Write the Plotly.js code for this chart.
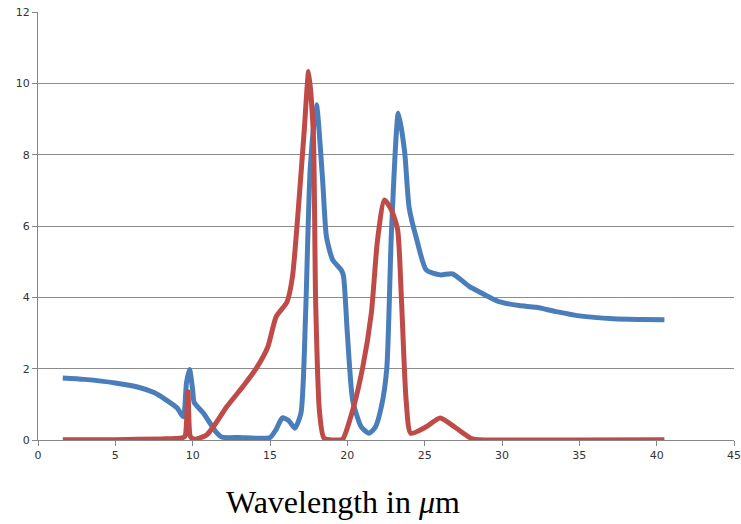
<!DOCTYPE html>
<html>
<head>
<meta charset="utf-8">
<script src="https://cdn.plot.ly/plotly-3.0.1.min.js"></script>
<style>html,body{margin:0;padding:0;background:#fff;}#chart{width:741px;height:524px;}</style>
</head>
<body>
<div id="chart"></div>
<script>
// Blue series
const blueX = [1.6, 3, 5, 6.5, 7.5, 8.3, 9.0, 9.4, 9.6, 9.8, 10.0, 10.1, 10.7, 11.5, 11.9, 13, 15.0, 15.4, 15.8, 16.2, 16.6, 17.0, 17.3, 17.6, 18.0, 18.4, 18.65, 19.05, 19.6, 19.75, 20.0, 20.35, 20.9, 21.4, 21.8, 22.2, 22.55, 22.85, 23.3, 23.7, 24.0, 24.5, 25.1, 26.0, 26.8, 27.9, 28.55, 29.2, 29.8, 31.1, 32.2, 33.5, 35.0, 37.2, 39.0, 40.5];
const blueY = [1.74, 1.7, 1.6, 1.48, 1.33, 1.12, 0.9, 0.65, 1.6, 1.98, 1.4, 1.05, 0.75, 0.23, 0.08, 0.07, 0.07, 0.3, 0.62, 0.55, 0.33, 0.75, 3.5, 7.6, 9.4, 7.3, 5.7, 5.05, 4.77, 4.6, 3.0, 1.1, 0.37, 0.19, 0.35, 0.93, 2.0, 5.8, 9.17, 8.1, 6.5, 5.6, 4.77, 4.63, 4.66, 4.3, 4.15, 4.0, 3.88, 3.77, 3.72, 3.6, 3.48, 3.4, 3.38, 3.37];
// Red series
const redX = [1.6, 5, 8, 9.3, 9.5, 9.7, 9.85, 10.1, 10.9, 11.5, 12.2, 13.25, 14.1, 14.85, 15.4, 16.1, 16.45, 16.8, 17.2, 17.5, 17.8, 17.95, 18.2, 18.5, 19.5, 19.7, 20.35, 21.0, 21.55, 21.95, 22.4, 22.85, 23.25, 23.5, 23.8, 24.1, 25.1, 26.0, 27.05, 28.1, 30, 35, 40.5];
const redY = [0.01, 0.01, 0.03, 0.06, 0.1, 1.35, 0.1, 0.02, 0.14, 0.47, 0.93, 1.5, 2.0, 2.6, 3.46, 3.87, 4.57, 6.3, 8.6, 10.33, 8.6, 3.9, 0.8, 0.05, 0.0, 0.02, 0.84, 2.05, 3.55, 5.6, 6.73, 6.45, 5.9, 3.93, 1.12, 0.19, 0.37, 0.62, 0.33, 0.03, 0.0, 0.0, 0.01];
const xTicks = [0, 5, 10, 15, 20, 25, 30, 35, 40, 45];
const yTicks = [0, 2, 4, 6, 8, 10, 12];
const xTitle = 'Wavelength in <i>\u03bc</i>m';

const traces = [
  {x: blueX, y: blueY, mode: 'lines', line: {color: '#4A7EBB', width: 5, shape: 'spline', smoothing: 0.6}, hoverinfo: 'skip'},
  {x: redX, y: redY, mode: 'lines', line: {color: '#BE4B48', width: 5, shape: 'spline', smoothing: 0.6}, hoverinfo: 'skip'}
];
const layout = {
  width: 741, height: 524,
  margin: {l: 38, r: 7, t: 12, b: 84},
  paper_bgcolor: '#fff', plot_bgcolor: '#fff',
  showlegend: false,
  font: {family: 'DejaVu Sans, sans-serif', size: 11, color: '#333'},
  xaxis: {
    range: [0, 45], tickvals: xTicks, ticktext: xTicks.map(String),
    showgrid: false, zeroline: false, showline: true, linecolor: '#868686', linewidth: 1,
    ticks: 'outside', ticklen: 5, tickcolor: '#868686'
  },
  yaxis: {
    range: [0, 12], tickvals: yTicks, ticktext: yTicks.map(String),
    showgrid: true, gridcolor: '#8C8C8C', gridwidth: 1, zeroline: false,
    showline: true, linecolor: '#868686', linewidth: 1,
    ticks: 'outside', ticklen: 5, tickcolor: '#868686'
  },
  annotations: [{
    text: xTitle, xref: 'paper', yref: 'paper', x: (343 - 38) / 696, y: -0.145,
    xanchor: 'center', yanchor: 'middle', showarrow: false,
    font: {family: 'Liberation Serif, Times New Roman, serif', size: 32, color: '#000'}
  }]
};
Plotly.newPlot('chart', traces, layout, {staticPlot: true, displayModeBar: false});
</script>
</body>
</html>
